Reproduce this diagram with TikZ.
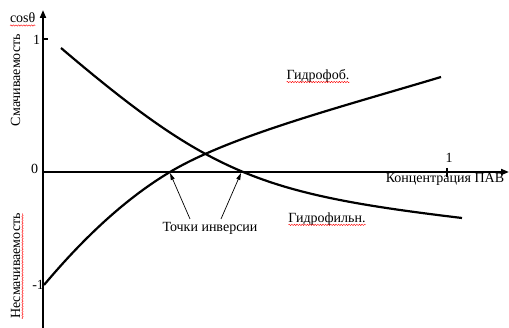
\documentclass[tikz,border=0pt]{standalone}
\usepackage{fontspec}
\setmainfont{Liberation Serif}
\usetikzlibrary{arrows.meta,decorations.pathmorphing}
\begin{document}
\begin{tikzpicture}[x=1pt,y=-1pt,
  axisline/.style={line width=1.9pt,-{Triangle[length=8pt,width=6pt]}},
  curve/.style={line width=2.2pt},
  pointer/.style={line width=0.7pt,-{Triangle[length=7pt,width=4pt]}},
  lbl/.style={font=\fontsize{14}{16}\selectfont,inner sep=0pt,outer sep=0pt},
  squig/.style={red,line width=0.4pt,decorate,decoration={snake,amplitude=0.7pt,segment length=2.6pt}}]
\useasboundingbox (0,0) rectangle (509,328);
% axes
\coordinate (ybot) at (43,328);
\coordinate (ytop) at (43,10);
\coordinate (xleft) at (43,172);
\coordinate (xright) at (509,172);
\draw[axisline] (ybot) -- (ytop);
\draw[axisline] (xleft) -- (xright);
% ticks
\coordinate (t1a) at (43,39);
\coordinate (t1b) at (48,39);
\draw[line width=1.2pt] (t1a) -- (t1b);
\coordinate (tx1a) at (447,168);
\coordinate (tx1b) at (447,177);
\draw[line width=1.2pt] (tx1a) -- (tx1b);
% tick labels
\node[lbl,anchor=east] (one) at (40,40) {1};
\node[lbl,anchor=east] (zero) at (38,169) {0};
\node[lbl,anchor=east] (mone) at (44,285) {-1};
\node[lbl] (xone) at (449,158) {1};
% axis titles
\node[lbl,anchor=base west] (cos) at (10,23) {cosθ};
\draw[squig] ([yshift=-2.5pt]cos.base west) -- ([yshift=-2.5pt]cos.base east);
\node[lbl,rotate=90,anchor=base] (wet) at (20,80) {Смачиваемость};
\node[lbl,rotate=90,anchor=base] (nonwet) at (20,266) {Несмачиваемость};
\draw[squig] ([xshift=2.5pt]nonwet.base west) -- ([xshift=2.5pt]nonwet.base east);
\node[lbl] (conc) at (445,179) {Концентрация ПАВ};
% curves
\coordinate (pA) at (61,48);
\coordinate (pB) at (462,218);
\coordinate (qA) at (44,285);
\coordinate (qM) at (170,172);
\coordinate (qB) at (441,77);
\draw[curve] (pA) .. controls (211,175.5) and (262,194) .. (pB);
\draw[curve] (qA) .. controls (86,235) and (128,197) .. (qM)
                  .. controls (230,136) and (341,107) .. (qB);
% curve labels
\node[lbl] (phob) at (318,76) {Гидрофоб.};
\draw[squig] ([yshift=-2.5pt]phob.base west) -- ([yshift=-2.5pt]phob.base east);
\node[lbl] (phil) at (327,219) {Гидрофильн.};
\draw[squig] ([yshift=-2.5pt]phil.base west) -- ([yshift=-2.5pt]phil.base east);
% inversion points
\coordinate (inv1) at (170,173);
\coordinate (inv2) at (241,173);
\node[lbl] (inv) at (210,228) {Точки инверсии};
\coordinate (a1) at (190,219);
\coordinate (a2) at (221,219);
\draw[pointer] (a1) -- (inv1);
\draw[pointer] (a2) -- (inv2);
\end{tikzpicture}
\end{document}
